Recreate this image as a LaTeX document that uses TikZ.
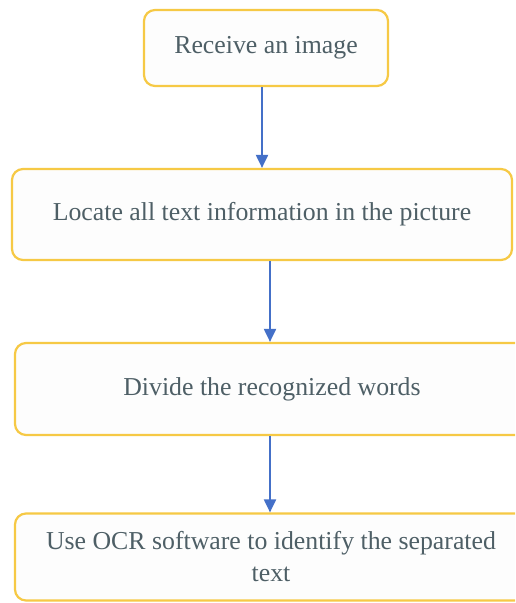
\documentclass[tikz,border=0pt]{standalone}
\usepackage{fontspec}
\setmainfont{Liberation Serif}
\usetikzlibrary{arrows.meta}
\definecolor{boxline}{HTML}{F6C945}
\definecolor{boxfill}{HTML}{FDFDFD}
\definecolor{txt}{HTML}{4E5F66}
\definecolor{arr}{HTML}{4470C8}
\tikzset{
  stepbox/.style={draw=boxline, fill=boxfill, line width=2.2pt, rounded corners=11pt,
    inner sep=0pt, align=center, text=txt, font=\fontsize{25.8}{32}\selectfont},
  flowarrow/.style={draw=arr, line width=2pt, -{Triangle[length=13pt,width=12pt]}}
}
\begin{document}
\begin{tikzpicture}[x=1pt,y=-1pt]
\useasboundingbox (0,0) rectangle (515,603);
\clip (0,0) rectangle (515,603);
\fill[white] (0,0) rectangle (515,603);
\node[stepbox, minimum width=244pt, minimum height=76pt] (b1) at (266,48) {Receive an image};
\node[stepbox, minimum width=500pt, minimum height=91pt] (b2) at (262,214.5) {Locate all text information in the picture};
\node[stepbox, minimum width=514pt, minimum height=92pt] (b3) at (272,389) {Divide the recognized words};
\node[stepbox, minimum width=512pt, minimum height=87pt] (b4) at (271,557) {Use OCR software to identify the separated\\text};
\draw[flowarrow] ([xshift=-4pt]b1.south) -- ([xshift=0pt]b2.north);
\draw[flowarrow] ([xshift=8pt]b2.south) -- ([xshift=-2pt]b3.north);
\draw[flowarrow] ([xshift=-2pt]b3.south) -- ([xshift=-1pt]b4.north);
\end{tikzpicture}
\end{document}
